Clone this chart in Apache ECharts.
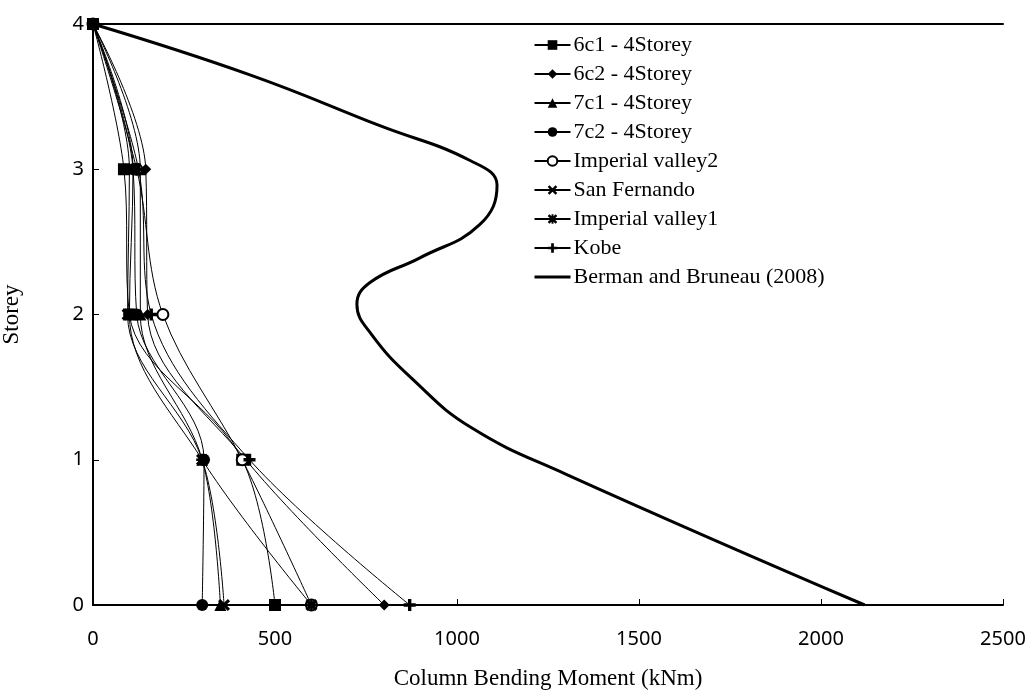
<!DOCTYPE html>
<html><head><meta charset="utf-8">
<script src="https://cdn.jsdelivr.net/npm/echarts@6/dist/echarts.min.js"></script>
<style>html,body{margin:0;padding:0;background:#fff}#c{width:1032px;height:698px}</style>
</head><body><div id="c"></div>
<script>
const storeys = [0, 1, 2, 3, 4];
const s6c1 = [500, 410, 100, 85, 0];
const s6c2 = [800, 420, 150, 145, 0];
const s7c1 = [350, 300, 130, 130, 0];
const s7c2 = [300, 305, 120, 110, 0];
const imperial2 = [600, 410, 192, 120, 0];
const sanFernando = [360, 300, 95, 100, 0];
const imperial1 = [600, 300, 100, 110, 0];
const kobe = [870, 430, 160, 125, 0];
const bermanStorey = [4, 3.65, 3.30, 3.06, 2.89, 2.62, 2.39, 2.22, 2.07, 1.86, 1.55, 1.22, 0.9, 0];
const bermanMoment = [0, 431, 788, 1036, 1110, 1063, 898, 761, 725, 766, 880, 1040, 1300, 2120];
const xTicks = [0, 500, 1000, 1500, 2000, 2500];
const yTicks = [0, 1, 2, 3, 4];

const PLUS = 'path://M3.6,0H6.4V3.6H10V6.4H6.4V10H3.6V6.4H0V3.6H3.6Z';
const XMARK = 'path://M1.8,0L5,3.2L8.2,0L10,1.8L6.8,5L10,8.2L8.2,10L5,6.8L1.8,10L0,8.2L3.2,5L0,1.8Z';
const AST = 'path://M1.8,0L5,3.2L8.2,0L10,1.8L6.8,5L10,8.2L8.2,10L5,6.8L1.8,10L0,8.2L3.2,5L0,1.8Z M4,0H6V10H4Z M0,4H10V6H0Z';

function pts(vals, ys){ return vals.map((v,i)=>[v, ys[i]]); }
const defs = [
  ['6c1 - 4Storey', s6c1, 'rect', 12],
  ['6c2 - 4Storey', s6c2, 'diamond', 11],
  ['7c1 - 4Storey', s7c1, 'triangle', 12],
  ['7c2 - 4Storey', s7c2, 'circle', 12],
  ['Imperial valley2', imperial2, 'emptyCircle', 11],
  ['San Fernando', sanFernando, XMARK, 12],
  ['Imperial valley1', imperial1, AST, 12],
  ['Kobe', kobe, PLUS, 12]
];
const series = defs.map(d => ({
  name: d[0], type: 'line', data: pts(d[1], storeys), smooth: 0.35,
  symbol: d[2], symbolSize: d[3], showSymbol: true,
  lineStyle: {color: '#000', width: 1},
  itemStyle: {color: '#000', borderColor: '#000', borderWidth: d[2]==='emptyCircle'?2.5:0},
  z: 3
}));
series.push({
  name: 'Berman and Bruneau (2008)', type: 'line', data: pts(bermanMoment, bermanStorey),
  smooth: 0.45, symbol: 'none', lineStyle: {color: '#000', width: 3}, itemStyle:{color:'#000'}, z: 2
});

const legendData = series.map(s => s.symbol === 'none'
  ? {name: s.name, lineStyle: {width: 3, color: '#000'}, itemStyle: {color: 'rgba(0,0,0,0)', borderColor: 'rgba(0,0,0,0)', borderWidth: 0}}
  : {name: s.name});

const chart = echarts.init(document.getElementById('c'));
chart.setOption({
  animation: false,
  backgroundColor: '#fff',
  grid: {left: 93, right: 29, top: 24, bottom: 93, containLabel: false, outerBoundsMode: 'none'},
  legend: {
    orient: 'vertical', left: 528, top: 29, itemWidth: 36, itemHeight: 12, itemGap: 7,
    textStyle: {fontFamily: 'Liberation Serif', fontSize: 22, color: '#000', padding:[0,0,0,-2]},
    data: legendData
  },
  xAxis: [{
    type: 'value', min: 0, max: 2500, interval: 500,
    axisLine: {show: true, lineStyle: {color: '#000', width: 2}},
    axisTick: {show: true, inside: true, length: 6, lineStyle: {color: '#000', width: 1}},
    splitLine: {show: false},
    axisLabel: {fontFamily: 'Noto Sans', fontSize: 20, color: '#000', margin: 24, formatter: v => String(v)},
    name: 'Column Bending Moment (kNm)', nameLocation: 'middle', nameGap: 62,
    nameTextStyle: {fontFamily: 'Liberation Serif', fontSize: 23, color: '#000'}
  }, {
    type: 'value', position: 'top', min: 0, max: 2500, interval: 500,
    axisLine: {show: true, lineStyle: {color: '#000', width: 2}},
    axisTick: {show: false}, axisLabel: {show: false}, splitLine: {show: false}
  }],
  yAxis: {
    type: 'value', min: 0, max: 4, interval: 1,
    axisLine: {show: true, lineStyle: {color: '#000', width: 2}},
    axisTick: {show: true, inside: true, length: 6, lineStyle: {color: '#000', width: 1}},
    splitLine: {show: false},
    axisLabel: {fontFamily: 'Noto Sans', fontSize: 20, color: '#000', margin: 9},
    name: 'Storey', nameLocation: 'middle', nameGap: 70, nameRotate: 90,
    nameTextStyle: {fontFamily: 'Liberation Serif', fontSize: 23, color: '#000'}
  },
  series: series
});
</script></body></html>
